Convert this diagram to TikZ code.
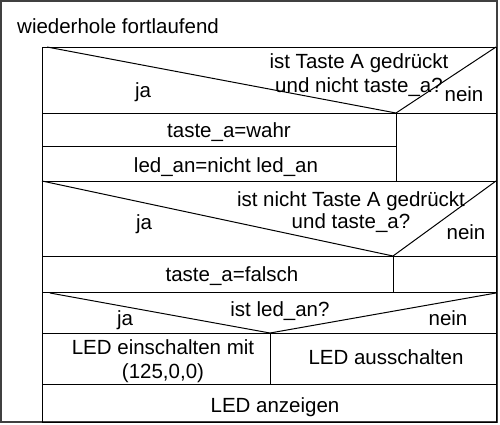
\documentclass[tikz,border=0pt]{standalone}
\usepackage{fontspec}
\setmainfont{Liberation Sans}
\usetikzlibrary{positioning}
\tikzset{
  nstext/.style={font=\fontsize{20.5}{24}\selectfont,inner sep=0pt,align=center,anchor=base},
  nsline/.style={draw=black,line width=1pt},
  nsframe/.style={draw=black!75,line width=1.4pt}
}
\begin{document}
\begin{tikzpicture}[x=1pt,y=-1pt]
  \useasboundingbox (0,0) rectangle (500,424);
  % loop frame
  \draw[nsframe] (1,1) rectangle (497,422);
  \node[nstext,anchor=base west] (loop) at (17,33) {wiederhole fortlaufend};
  \draw[nsline] (42,47) rectangle (496,422);
  % first decision
  \draw[nsline] (47,47) -- (396,113) -- (496,47);
  \draw[nsline] (42,113) -- (496,113);
  \node[nstext] (cond1) at (359,92) {ist Taste A gedrückt\\und nicht taste\_a?};
  \node[nstext] (ja1) at (143,97) {ja};
  \node[nstext] (nein1) at (464,101) {nein};
  \node[nstext] (set1) at (229,137) {taste\_a=wahr};
  \draw[nsline] (42,146) -- (396,146);
  \node[nstext] (toggle) at (226,172) {led\_an=nicht led\_an};
  \draw[nsline] (396,113) -- (396,181);
  \draw[nsline] (42,181) -- (496,181);
  % second decision
  \draw[nsline] (42,181) -- (393,256) -- (496,181);
  \node[nstext] (cond2) at (351,228) {ist nicht Taste A gedrückt\\[-2.5pt]und taste\_a?};
  \node[nstext] (ja2) at (144,229) {ja};
  \node[nstext] (nein2) at (466,239) {nein};
  \draw[nsline] (42,256) -- (496,256);
  \node[nstext] (set2) at (232,281) {taste\_a=falsch};
  \draw[nsline] (393,256) -- (393,292);
  \draw[nsline] (42,292) -- (496,292);
  % third decision
  \draw[nsline] (50,293) -- (270,333) -- (496,293);
  \node[nstext] (cond3) at (280,316) {ist led\_an?};
  \node[nstext] (ja3) at (125,325) {ja};
  \node[nstext] (nein3) at (448,325) {nein};
  \draw[nsline] (42,333) -- (496,333);
  \node[nstext] (ledon) at (163,378) {LED einschalten mit\\(125,0,0)};
  \node[nstext] (ledoff) at (386,364) {LED ausschalten};
  \draw[nsline] (270,333) -- (270,384);
  \draw[nsline] (42,384) -- (496,384);
  \node[nstext] (show) at (275,412) {LED anzeigen};
\end{tikzpicture}
\end{document}
